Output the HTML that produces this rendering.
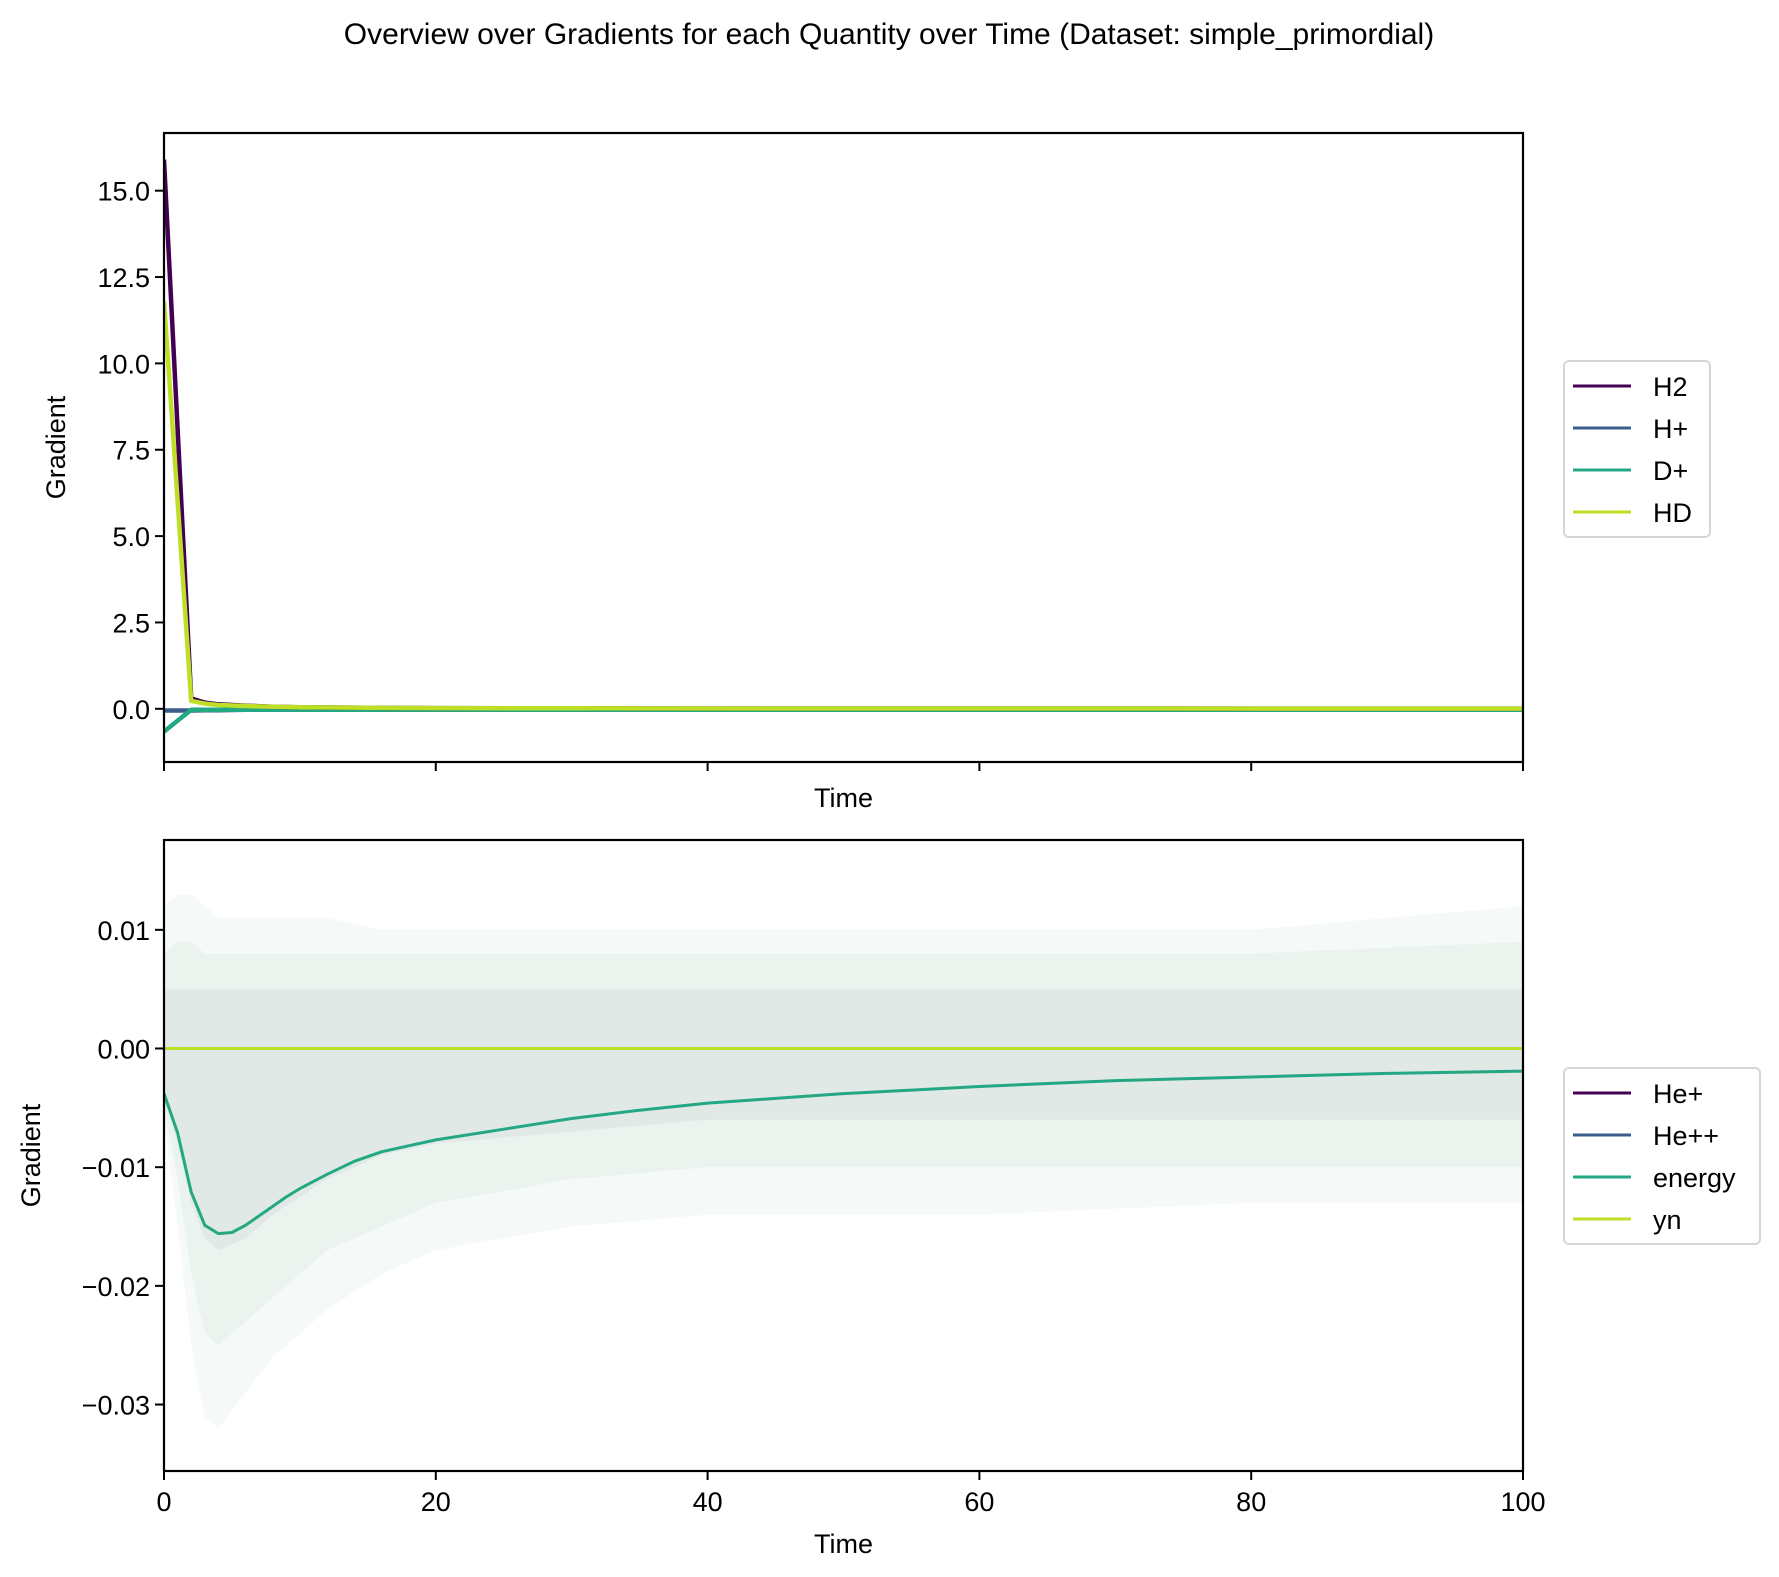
<!DOCTYPE html>
<html><head><meta charset="utf-8"><style>
html,body{margin:0;padding:0;background:#fff}
svg{display:block;font-family:"Liberation Sans","DejaVu Sans",sans-serif}
</style></head><body>
<svg id="fig" width="1779" height="1577" viewBox="0 0 1779 1577" xmlns="http://www.w3.org/2000/svg">
<rect width="1779" height="1577" fill="#fff"/>
<text x="889" y="44" font-size="30" text-anchor="middle">Overview over Gradients for each Quantity over Time (Dataset: simple_primordial)</text>
<g id="top"></g>
<g id="bot"></g>
</svg>
<script>
// ---- data ----
const xTicks = [0, 20, 40, 60, 80, 100];
const topYTicks = [0, 2.5, 5, 7.5, 10, 12.5, 15];
const topYTickLabels = ["0.0", "2.5", "5.0", "7.5", "10.0", "12.5", "15.0"];
const botYTicks = [-0.03, -0.02, -0.01, 0, 0.01];
const botYTickLabels = ["\u22120.03", "\u22120.02", "\u22120.01", "0.00", "0.01"];
const topTime = [0, 2, 3, 4, 6, 8, 10, 15, 20, 30, 50, 100];
const h2Vals = [15.9, 0.3, 0.18, 0.13, 0.09, 0.06, 0.045, 0.03, 0.02, 0.015, 0.01, 0.005];
const hdVals = [11.8, 0.23, 0.15, 0.11, 0.08, 0.06, 0.045, 0.03, 0.02, 0.015, 0.01, 0.005];
const hpVals = [-0.05, -0.05, -0.04, -0.04, -0.03, -0.03, -0.03, -0.03, -0.03, -0.03, -0.03, -0.03];
const dpVals = [-0.66, -0.03, -0.03, -0.03, -0.03, -0.03, -0.03, -0.03, -0.03, -0.03, -0.03, -0.03];
const energyTime = [0,1,2,3,4,5,6,7,8,9,10,12,14,16,18,20,25,30,35,40,45,50,55,60,70,80,90,100];
const energyVals = [-0.0038,-0.0071,-0.0121,-0.0149,-0.0156,-0.0155,-0.0149,-0.0141,-0.0133,-0.0125,-0.0118,-0.0106,-0.0095,-0.0087,-0.0082,-0.0077,-0.0068,-0.0059,-0.0052,-0.0046,-0.0042,-0.0038,-0.0035,-0.0032,-0.0027,-0.0024,-0.0021,-0.0019];
const ynVals = [0, 0];
const ynTime = [0, 100];
const heVals = [0, 0];
const bandTime = [0, 1, 2, 3, 4, 6, 8, 12, 16, 20, 30, 40, 60, 80, 100];
const bandUpper = [0.012, 0.013, 0.013, 0.012, 0.011, 0.011, 0.011, 0.011, 0.010, 0.010, 0.010, 0.010, 0.010, 0.010, 0.012];
const bandLower = [-0.006, -0.015, -0.025, -0.031, -0.032, -0.029, -0.026, -0.022, -0.019, -0.017, -0.015, -0.014, -0.014, -0.013, -0.013];
const midUpper = [0.008, 0.009, 0.009, 0.008, 0.008, 0.008, 0.008, 0.008, 0.008, 0.008, 0.008, 0.008, 0.008, 0.008, 0.009];
const midLower = [-0.005, -0.011, -0.019, -0.024, -0.025, -0.023, -0.021, -0.017, -0.015, -0.013, -0.011, -0.010, -0.010, -0.010, -0.010];
const coreUpper = [0.005, 0.005, 0.005, 0.005, 0.005, 0.005, 0.005, 0.005, 0.005, 0.005, 0.005, 0.005, 0.005, 0.005, 0.005];
const coreLower = [-0.004, -0.008, -0.013, -0.016, -0.017, -0.016, -0.014, -0.011, -0.009, -0.008, -0.007, -0.006, -0.006, -0.006, -0.006];

const NS = "http://www.w3.org/2000/svg";
const L = 164, R = 1523;
function xs(t){ return L + (t - 0) / 100 * (R - L); }
function mk(parent, tag, attrs){ const e = document.createElementNS(NS, tag); for (const k in attrs) e.setAttribute(k, attrs[k]); parent.appendChild(e); return e; }
function pathFrom(ts, vs, ys){ return ts.map((t,i)=>(i?"L":"M")+xs(t).toFixed(1)+","+ys(vs[i]).toFixed(1)).join(" "); }

function panel(g, top, bottom, ymin, ymax, yt, ytl, showXLabels, ylabX, legendItems, legY, legW){
  const ys = v => bottom - (v - ymin) / (ymax - ymin) * (bottom - top);
  const clipId = "clip" + top;
  const cp = mk(g, "clipPath", {id: clipId});
  mk(cp, "rect", {x: L, y: top, width: R - L, height: bottom - top});
  const plot = mk(g, "g", {"clip-path": "url(#" + clipId + ")"});
  
  
  return {ys, plot, finish(){
    const frame = mk(g, "rect", {x: L, y: top, width: R - L, height: bottom - top, fill: "none", stroke: "#000", "stroke-width": 2.2});
    
    
    yt.forEach((v,i)=>{
      const y = ys(v);
      const tk = mk(g, "line", {x1: L - 9, x2: L, y1: y, y2: y, stroke: "#000", "stroke-width": 2});
      
      
      const tx = mk(g, "text", {x: L - 14, y: y + 10, "font-size": 27, "text-anchor": "end"});
      tx.textContent = ytl[i];
      
      
    });
    xTicks.forEach(v=>{
      const x = xs(v);
      const tk = mk(g, "line", {x1: x, x2: x, y1: bottom, y2: bottom + 9, stroke: "#000", "stroke-width": 2});
      
      
      if (showXLabels){
        const tx = mk(g, "text", {x: x, y: bottom + 40, "font-size": 27, "text-anchor": "middle"});
        tx.textContent = String(v);
        
        
      }
    });
    const xl = mk(g, "text", {x: (L + R) / 2, y: bottom + (showXLabels ? 82 : 45), "font-size": 27, "text-anchor": "middle"});
    xl.textContent = "Time";
    
    
    const cy = (top + bottom) / 2;
    const yl = mk(g, "text", {x: ylabX, y: cy, "font-size": 27, "text-anchor": "middle", transform: "rotate(-90 " + ylabX + " " + cy + ")"});
    yl.textContent = "Gradient";
    
    
    const n = legendItems.length, rowH = 42;
    const lh = n * rowH + 8;
    const lg = mk(g, "g", {});
    
    
    mk(lg, "rect", {x: 1564, y: legY, width: legW, height: lh, rx: 5, fill: "#fff", stroke: "#d6d6d6", "stroke-width": 2});
    legendItems.forEach((it,i)=>{
      const y = legY + 25 + i * rowH;
      const e = mk(lg, "g", {});
      
      
      mk(e, "line", {x1: 1573, x2: 1631, y1: y, y2: y, stroke: it[1], "stroke-width": 3});
      const t = mk(e, "text", {x: 1653, y: y + 10, "font-size": 27});
      t.textContent = it[0];
    });
  }};
}

// top panel
const gTop = document.getElementById("top");
const pT = panel(gTop, 133, 762, -1.54, 16.67, topYTicks, topYTickLabels, false, 65,
  [["H2","#440154"],["H+","#3b5d8c"],["D+","#23a883"],["HD","#bddf26"]], 361, 146);
[[hpVals,"#3b5d8c","series-h-plus"],[dpVals,"#23a883","series-d-plus"],[h2Vals,"#440154","series-h2"],[hdVals,"#bddf26","series-hd"]].forEach(s=>{
  const p = mk(pT.plot, "path", {d: pathFrom(topTime, s[0], pT.ys), fill: "none", stroke: s[1], "stroke-width": 4.5, "stroke-linejoin": "round"});
  
  
});
pT.finish();

// bottom panel
const gBot = document.getElementById("bot");
const pB = panel(gBot, 840, 1471, -0.0356, 0.01757, botYTicks, botYTickLabels, true, 40,
  [["He+","#440154"],["He++","#3b5d8c"],["energy","#23a883"],["yn","#bddf26"]], 1068, 196);
function band(up, lo, fill, op, name){
  const d = pathFrom(bandTime, up, pB.ys) + " " + bandTime.slice().reverse().map((t,i)=>"L"+xs(t).toFixed(1)+","+pB.ys(lo[lo.length-1-i]).toFixed(1)).join(" ") + " Z";
  const p = mk(pB.plot, "path", {d: d, fill: fill, "fill-opacity": op, stroke: "none"});
  
  
}
band(bandUpper, bandLower, "#c9e2d6", 0.18, "sample-envelope-outer");
band(midUpper, midLower, "#c4d6cc", 0.2, "sample-envelope-mid");
band(coreUpper, coreLower, "#bcc8c4", 0.22, "sample-envelope-core");
[[ynTime, heVals, "#3b5d8c", "series-he"],[energyTime, energyVals, "#23a883", "series-energy"],[ynTime, ynVals, "#bddf26", "series-yn"]].forEach(s=>{
  const p = mk(pB.plot, "path", {d: pathFrom(s[0], s[1], pB.ys), fill: "none", stroke: s[2], "stroke-width": 3, "stroke-linejoin": "round"});
  
  
});
pB.finish();
</script>
</body></html>
